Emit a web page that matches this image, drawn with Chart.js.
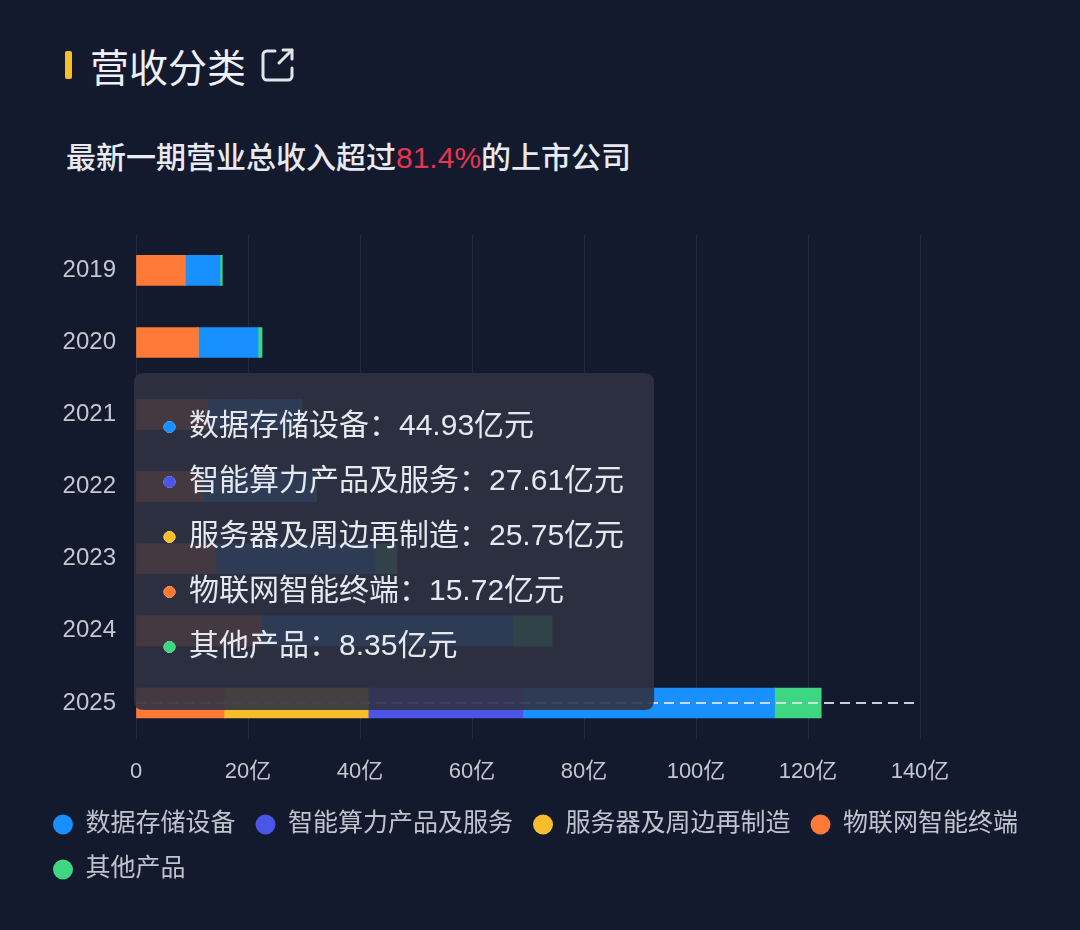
<!DOCTYPE html>
<html lang="zh-CN">
<head>
  <meta charset="UTF-8">
  <title>营收分类</title>
  <script src="https://cdn.jsdelivr.net/npm/chart.js@4"></script>
  <style>
    html, body {
      margin: 0;
      padding: 0;
    }

    body {
      width: 1080px;
      height: 930px;
      background-color: #131a2e;
      position: relative;
      overflow: hidden;
      font-family: 'Liberation Sans', 'Noto Sans CJK SC', sans-serif;
    }

    .title {
      position: absolute;
      left: 65px;
      top: 39px;
      height: 52px;
      display: flex;
      align-items: center;
    }

    .title .mark {
      width: 7px;
      height: 28px;
      background-color: #f5c02a;
      border-radius: 2px;
      margin-right: 18px;
    }

    .title h1 {
      margin: 0;
      font-family: 'Noto Sans CJK SC', sans-serif;
      font-size: 39px;
      font-weight: 400;
      color: #eef0f5;
    }

    .title svg {
      margin-left: 14px;
    }

    .sub {
      position: absolute;
      left: 66px;
      top: 140px;
      font-size: 30px;
      line-height: 36px;
      font-weight: 500;
      color: #e8eaf0;
    }

    .sub em {
      font-style: normal;
      color: #e8344e;
    }

    .chart-box {
      position: absolute;
      left: 0;
      top: 200px;
      width: 1080px;
      height: 730px;
    }
</style>
</head>
<body>

<div class="title">
  <div class="mark"></div>
  <h1>营收分类</h1>
  <svg width="36" height="36" viewBox="0 0 36 36" fill="none" stroke="#e2e4ea" stroke-width="3" stroke-linecap="round" stroke-linejoin="round">
    <path d="M15 4 H7 a4 4 0 0 0 -4 4 V29 a4 4 0 0 0 4 4 H28 a4 4 0 0 0 4 -4 V21"/>
    <path d="M19 16 L32 3"/>
    <path d="M23 3 H32 V12"/>
  </svg>
</div>
<div class="sub">最新一期营业总收入超过<em>81.4%</em>的上市公司</div>

<div class="chart-box">
  <canvas id="myChart"></canvas>
</div>

<script>
    // values in 亿元
    const years = ['2019', '2020', '2021', '2022', '2023', '2024', '2025'];
    const seriesNames = ['数据存储设备', '智能算力产品及服务', '服务器及周边再制造', '物联网智能终端', '其他产品'];
    const seriesColors = ['#1890ff', '#4b55e6', '#f6be2c', '#ff7a37', '#3fd682'];

    const storage = [6.25, 10.7, 16.6, 19.8, 28.6, 45.0, 44.93];
    const computing = [0, 0, 0, 0, 0, 0, 27.61];
    const server = [0, 0, 0, 0, 0, 0, 25.75];
    const iot = [8.75, 11.1, 12.7, 12.1, 14.1, 22.3, 15.72];
    const other = [0.4, 0.7, 0.3, 0.3, 3.9, 7.0, 8.35];

    // stacking from the axis outwards: 物联网, 服务器, 智能算力, 数据存储, 其他
    const stackOrder = [3, 2, 1, 0, 4];

    const xMax = 140;
    const xStep = 20;

    const activeIndex = years.length - 1;
    const fontFamily = "'Liberation Sans', 'Noto Sans CJK SC', sans-serif";

    const seriesValues = [storage, computing, server, iot, other];

    const data = {
        labels: years,
        datasets: seriesNames.map((name, i) => ({
            label: name,
            data: seriesValues[i],
            backgroundColor: seriesColors[i],
            borderWidth: 0,
            barThickness: 30,
            order: stackOrder[i]
        }))
    };

    Chart.Tooltip.positioners.pinned = function () {
        const chart = this.chart;
        const y = chart.scales.y.getPixelForValue(activeIndex);
        return {x: chart.chartArea.left - 2 + 10, y: y + 7};
    };

    const pointerLine = {
        id: 'pointerLine',
        afterDatasetsDraw(chart) {
            const {ctx, chartArea, scales} = chart;
            const y = scales.y.getPixelForValue(activeIndex);
            ctx.save();
            ctx.strokeStyle = 'rgba(220,225,236,0.9)';
            ctx.lineWidth = 2;
            ctx.setLineDash([10, 6]);
            ctx.beginPath();
            ctx.moveTo(chartArea.left, y);
            ctx.lineTo(chartArea.right - 4, y);
            ctx.stroke();
            ctx.restore();
        }
    };

    const options = {
        indexAxis: 'y',
        responsive: true,
        maintainAspectRatio: false,
        animation: false,
        events: [],
        layout: {
            padding: {top: 28.5, left: 33, right: 0, bottom: 38}
        },
        scales: {
            x: {
                stacked: true,
                min: 0,
                max: xMax,
                grid: {
                    color: 'rgba(255,255,255,0.07)',
                    lineWidth: 1,
                    drawTicks: false
                },
                border: {display: false},
                ticks: {
                    stepSize: xStep,
                    padding: 20,
                    color: '#c3c7d2',
                    font: {family: fontFamily, size: 22},
                    callback: (v) => v === 0 ? '0' : v + '亿'
                },
                afterFit(scale) {
                    scale.height = 53;
                }
            },
            y: {
                stacked: true,
                grid: {display: false, drawTicks: false},
                border: {display: false},
                ticks: {
                    padding: 20,
                    color: '#c3c7d2',
                    font: {family: fontFamily, size: 24}
                },
                afterFit(scale) {
                    scale.width = 103;
                }
            },
            yRight: {
                type: 'linear',
                position: 'right',
                display: true,
                grid: {display: false, drawTicks: false},
                border: {display: false},
                ticks: {display: false},
                afterFit(scale) {
                    scale.width = 160;
                }
            }
        },
        plugins: {
            legend: {
                position: 'bottom',
                align: 'start',
                labels: {
                    usePointStyle: true,
                    pointStyle: 'circle',
                    pointStyleWidth: 20,
                    boxHeight: 14.14,
                    padding: 20,
                    color: '#bfc3ce',
                    font: {family: fontFamily, size: 25},
                    sort: (a, b) => a.datasetIndex - b.datasetIndex
                }
            },
            tooltip: {
                enabled: true,
                animation: false,
                position: 'pinned',
                mode: 'index',
                intersect: false,
                xAlign: 'left',
                yAlign: 'bottom',
                caretSize: 0,
                caretPadding: 0,
                cornerRadius: 10,
                backgroundColor: 'rgba(48,50,67,0.9)',
                borderWidth: 0,
                padding: {top: 36, bottom: 45, left: 30, right: 30},
                bodyFont: {family: fontFamily, size: 30},
                bodyColor: '#e6e8ef',
                bodySpacing: 19,
                displayColors: true,
                usePointStyle: true,
                boxWidth: 11,
                boxHeight: 11,
                boxPadding: 12,
                itemSort: (a, b) => a.datasetIndex - b.datasetIndex,
                callbacks: {
                    title: () => '',
                    label: (c) => c.dataset.label + '：' + c.parsed.x.toFixed(2) + '亿元',
                    labelPointStyle: () => ({pointStyle: 'circle', rotation: 0}),
                    labelColor: (c) => ({
                        borderColor: seriesColors[c.datasetIndex],
                        backgroundColor: seriesColors[c.datasetIndex],
                        borderWidth: 0
                    })
                }
            }
        }
    };

    const myChart = new Chart(document.getElementById('myChart'), {
        type: 'bar',
        data: data,
        options: options,
        plugins: [pointerLine]
    });

    myChart.tooltip.setActiveElements(
        data.datasets.map((d, i) => ({datasetIndex: i, index: activeIndex})),
        {x: 0, y: 0}
    );
    myChart.draw();
</script>
</body>
</html>
